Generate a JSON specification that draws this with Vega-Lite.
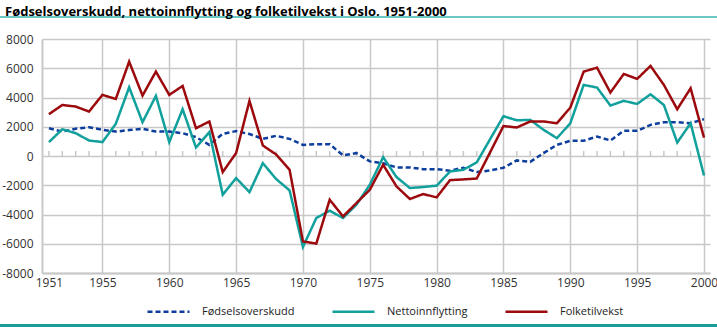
{
  "$schema": "https://vega.github.io/schema/vega-lite/v6.json",
  "width": 668,
  "height": 234,
  "autosize": "none",
  "padding": {"left": 42, "top": 39, "right": 7, "bottom": 54},
  "background": "white",
  "title": {
    "text": "Fødselsoverskudd, nettoinnflytting og folketilvekst i Oslo. 1951-2000",
    "anchor": "start",
    "frame": "group",
    "dx": -37,
    "offset": -3,
    "font": "Open Sans",
    "fontSize": 13,
    "fontWeight": "bold",
    "color": "#000000"
  },
  "config": {
    "view": {"stroke": null},
    "font": "Open Sans",
    "axis": {
      "labelFont": "Open Sans",
      "labelFontSize": 12,
      "labelColor": "#333333",
      "labelOverlap": false,
      "gridColor": "#c8c8c8",
      "gridWidth": 1.5,
      "domainColor": "#c8c8c8",
      "domainWidth": 2,
      "ticks": false,
      "title": null
    },
    "legend": {
      "labelFont": "Open Sans",
      "labelFontSize": 11,
      "labelColor": "#222222"
    }
  },
  "resolve": {"axis": {"y": "independent"}},
  "data": {
    "values": [
      {"år": 1951, "Fødselsoverskudd": 1900, "Nettoinnflytting": 950, "Folketilvekst": 2860},
      {"år": 1952, "Fødselsoverskudd": 1670, "Nettoinnflytting": 1830, "Folketilvekst": 3490},
      {"år": 1953, "Fødselsoverskudd": 1860, "Nettoinnflytting": 1560, "Folketilvekst": 3380},
      {"år": 1954, "Fødselsoverskudd": 1970, "Nettoinnflytting": 1060, "Folketilvekst": 3040},
      {"år": 1955, "Fødselsoverskudd": 1790, "Nettoinnflytting": 950, "Folketilvekst": 4180},
      {"år": 1956, "Fødselsoverskudd": 1670, "Nettoinnflytting": 2200, "Folketilvekst": 3900},
      {"år": 1957, "Fødselsoverskudd": 1770, "Nettoinnflytting": 4700, "Folketilvekst": 6450},
      {"år": 1958, "Fødselsoverskudd": 1860, "Nettoinnflytting": 2310, "Folketilvekst": 4130},
      {"år": 1959, "Fødselsoverskudd": 1670, "Nettoinnflytting": 4110, "Folketilvekst": 5770},
      {"år": 1960, "Fødselsoverskudd": 1670, "Nettoinnflytting": 950, "Folketilvekst": 4180},
      {"år": 1961, "Fødselsoverskudd": 1560, "Nettoinnflytting": 3200, "Folketilvekst": 4790},
      {"år": 1962, "Fødselsoverskudd": 1290, "Nettoinnflytting": 580, "Folketilvekst": 1900},
      {"år": 1963, "Fødselsoverskudd": 760, "Nettoinnflytting": 1630, "Folketilvekst": 2360},
      {"år": 1964, "Fødselsoverskudd": 1520, "Nettoinnflytting": -2650, "Folketilvekst": -1100},
      {"år": 1965, "Fødselsoverskudd": 1700, "Nettoinnflytting": -1510, "Folketilvekst": 200},
      {"år": 1966, "Fødselsoverskudd": 1500, "Nettoinnflytting": -2470, "Folketilvekst": 3770},
      {"år": 1967, "Fødselsoverskudd": 1170, "Nettoinnflytting": -490, "Folketilvekst": 720},
      {"år": 1968, "Fødselsoverskudd": 1380, "Nettoinnflytting": -1580, "Folketilvekst": 100},
      {"år": 1969, "Fødselsoverskudd": 1170, "Nettoinnflytting": -2350, "Folketilvekst": -940},
      {"år": 1970, "Fødselsoverskudd": 760, "Nettoinnflytting": -6220, "Folketilvekst": -5840},
      {"år": 1971, "Fødselsoverskudd": 810, "Nettoinnflytting": -4240, "Folketilvekst": -5990},
      {"år": 1972, "Fødselsoverskudd": 810, "Nettoinnflytting": -3740, "Folketilvekst": -2990},
      {"år": 1973, "Fødselsoverskudd": 40, "Nettoinnflytting": -4240, "Folketilvekst": -4130},
      {"år": 1974, "Fødselsoverskudd": 200, "Nettoinnflytting": -3330, "Folketilvekst": -3220},
      {"år": 1975, "Fødselsoverskudd": -370, "Nettoinnflytting": -1970, "Folketilvekst": -2310},
      {"år": 1976, "Fødselsoverskudd": -490, "Nettoinnflytting": -80, "Folketilvekst": -600},
      {"år": 1977, "Fødselsoverskudd": -780, "Nettoinnflytting": -1440, "Folketilvekst": -2080},
      {"år": 1978, "Fødselsoverskudd": -780, "Nettoinnflytting": -2190, "Folketilvekst": -2940},
      {"år": 1979, "Fødselsoverskudd": -900, "Nettoinnflytting": -2120, "Folketilvekst": -2600},
      {"år": 1980, "Fødselsoverskudd": -900, "Nettoinnflytting": -2030, "Folketilvekst": -2830},
      {"år": 1981, "Fødselsoverskudd": -1000, "Nettoinnflytting": -1060, "Folketilvekst": -1650},
      {"år": 1982, "Fødselsoverskudd": -800, "Nettoinnflytting": -940, "Folketilvekst": -1600},
      {"år": 1983, "Fødselsoverskudd": -1100, "Nettoinnflytting": -440, "Folketilvekst": -1540},
      {"år": 1984, "Fødselsoverskudd": -990, "Nettoinnflytting": 1150, "Folketilvekst": 250},
      {"år": 1985, "Fødselsoverskudd": -800, "Nettoinnflytting": 2720, "Folketilvekst": 2050},
      {"år": 1986, "Fødselsoverskudd": -300, "Nettoinnflytting": 2440, "Folketilvekst": 1950},
      {"år": 1987, "Fødselsoverskudd": -400, "Nettoinnflytting": 2470, "Folketilvekst": 2360},
      {"år": 1988, "Fødselsoverskudd": 200, "Nettoinnflytting": 1790, "Folketilvekst": 2360},
      {"år": 1989, "Fødselsoverskudd": 760, "Nettoinnflytting": 1220, "Folketilvekst": 2240},
      {"år": 1990, "Fødselsoverskudd": 1040, "Nettoinnflytting": 2240, "Folketilvekst": 3310},
      {"år": 1991, "Fødselsoverskudd": 1040, "Nettoinnflytting": 4860, "Folketilvekst": 5770},
      {"år": 1992, "Fødselsoverskudd": 1330, "Nettoinnflytting": 4680, "Folketilvekst": 6040},
      {"år": 1993, "Fødselsoverskudd": 1060, "Nettoinnflytting": 3450, "Folketilvekst": 4340},
      {"år": 1994, "Fødselsoverskudd": 1720, "Nettoinnflytting": 3770, "Folketilvekst": 5610},
      {"år": 1995, "Fødselsoverskudd": 1720, "Nettoinnflytting": 3560, "Folketilvekst": 5270},
      {"år": 1996, "Fødselsoverskudd": 2130, "Nettoinnflytting": 4220, "Folketilvekst": 6160},
      {"år": 1997, "Fødselsoverskudd": 2310, "Nettoinnflytting": 3490, "Folketilvekst": 4860},
      {"år": 1998, "Fødselsoverskudd": 2310, "Nettoinnflytting": 920, "Folketilvekst": 3200},
      {"år": 1999, "Fødselsoverskudd": 2240, "Nettoinnflytting": 2240, "Folketilvekst": 4630},
      {"år": 2000, "Fødselsoverskudd": 2520, "Nettoinnflytting": -1330, "Folketilvekst": 1260}
    ]
  },
  "encoding": {
    "x": {
      "field": "år",
      "type": "quantitative",
      "scale": {"domain": [1950.48, 2000.45], "nice": false, "zero": false},
      "axis": {
        "values": [1951, 1955, 1960, 1965, 1970, 1975, 1980, 1985, 1990, 1995, 2000],
        "tickCount": 30,
        "format": "d",
        "title": null,
        "grid": true,
        "gridColor": {"condition": {"test": "datum.value == 1951", "value": "transparent"}, "value": "#c8c8c8"},
        "labelPadding": 4,
        "labelFlush": false
      }
    }
  },
  "layer": [
    {
      "mark": {"type": "rule", "color": "#c8c8c8", "strokeWidth": 1.5},
      "encoding": {
        "y": {"datum": 0, "type": "quantitative", "scale": {"domain": [-8000, 8000], "nice": false}, "axis": null},
        "y2": {"datum": 340}
      }
    },
    {
      "transform": [
        {"fold": ["Fødselsoverskudd", "Nettoinnflytting", "Folketilvekst"], "as": ["serie", "verdi"]}
      ],
      "mark": {"type": "line", "strokeWidth": 2.5},
      "encoding": {
        "y": {
          "field": "verdi",
          "type": "quantitative",
          "scale": {"domain": [-8000, 8000], "nice": false},
          "axis": {
            "orient": "left",
            "values": [-8000, -6000, -4000, -2000, 0, 2000, 4000, 6000, 8000],
            "tickCount": 20,
            "labelExpr": "datum.value + ''",
            "title": null,
            "grid": true,
            "labelPadding": 9
          }
        },
        "color": {
          "field": "serie",
          "type": "nominal",
          "scale": {
            "domain": ["Fødselsoverskudd", "Nettoinnflytting", "Folketilvekst"],
            "range": ["#0d3e9e", "#11a09b", "#9c0a0e"]
          },
          "legend": {
            "title": null,
            "orient": "none",
            "legendX": 104,
            "legendY": 250,
            "direction": "horizontal",
            "symbolType": "stroke",
            "symbolSize": 1764,
            "symbolStrokeWidth": 2.5,
            "labelOffset": 11,
            "columnPadding": 32,
            "padding": 0
          }
        },
        "strokeDash": {
          "field": "serie",
          "type": "nominal",
          "scale": {
            "domain": ["Fødselsoverskudd", "Nettoinnflytting", "Folketilvekst"],
            "range": [[5, 3], [1, 0], [1, 0]]
          },
          "legend": {
            "title": null,
            "orient": "none",
            "legendX": 104,
            "legendY": 250,
            "direction": "horizontal",
            "symbolType": "stroke",
            "symbolSize": 1764,
            "symbolStrokeWidth": 2.5,
            "labelOffset": 11,
            "columnPadding": 32,
            "padding": 0
          }
        }
      }
    },
    {
      "mark": {"type": "rule", "color": "#6cc8c6", "strokeWidth": 2, "clip": false},
      "encoding": {
        "x": {"datum": 1947.3},
        "x2": {"datum": 2001.0},
        "y": {"datum": 9504, "type": "quantitative", "scale": {"domain": [-8000, 8000], "nice": false}, "axis": null}
      }
    },
    {
      "mark": {"type": "rule", "color": "#1a9d99", "strokeWidth": 2, "clip": false},
      "encoding": {
        "x": {"datum": 1947.3},
        "x2": {"datum": 2001.0},
        "y": {"datum": -11590, "type": "quantitative", "scale": {"domain": [-8000, 8000], "nice": false}, "axis": null}
      }
    }
  ]
}
